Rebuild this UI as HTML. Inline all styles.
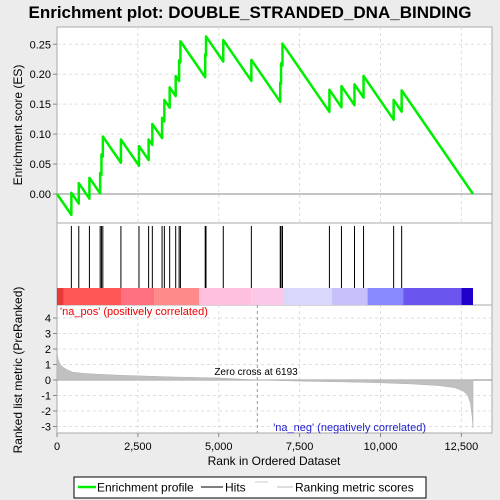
<!DOCTYPE html>
<html><head><meta charset="utf-8"><style>
body{margin:0;background:#ececec;}
svg{display:block;font-family:"Liberation Sans",sans-serif;}
</style></head><body>
<svg id="chart" width="500" height="500" viewBox="0 0 500 500" xmlns="http://www.w3.org/2000/svg">
<text x="250" y="18" text-anchor="middle" font-size="17" font-weight="bold" fill="#000">Enrichment plot: DOUBLE_STRANDED_DNA_BINDING</text>
<rect x="57" y="27" width="435" height="196" fill="#fff" stroke="#aaa"/>
<rect x="57" y="223" width="435" height="82" fill="#fff" stroke="#aaa"/>
<rect x="57" y="305" width="435" height="128" fill="#fff" stroke="#aaa"/>
<g id="grid"></g>
<g id="colorbar"></g>
<g id="hits"></g>
<g id="metric"></g>
<g id="es"></g>
<g id="axes"></g>
<text transform="translate(22,125) rotate(-90)" text-anchor="middle" font-size="12">Enrichment score (ES)</text>
<text transform="translate(22,370) rotate(-90)" text-anchor="middle" font-size="12">Ranked list metric (PreRanked)</text>
<text x="60" y="315" font-size="11" fill="#e00">'na_pos' (positively correlated)</text>
<text x="426" y="431" text-anchor="end" font-size="11" fill="#22c">'na_neg' (negatively correlated)</text>
<text x="256" y="375" text-anchor="middle" font-size="10">Zero cross at 6193</text>
<text x="274" y="465" text-anchor="middle" font-size="12">Rank in Ordered Dataset</text>
<g>
<rect x="74" y="477" width="352" height="21" fill="#fff" stroke="#000"/>
<line x1="78" y1="487" x2="96" y2="487" stroke="#00ee00" stroke-width="2.5"/>
<text x="97" y="491.5" font-size="12">Enrichment profile</text>
<line x1="201" y1="487" x2="223" y2="487" stroke="#000"/>
<text x="225" y="491.5" font-size="12">Hits</text>
<line x1="255" y1="482" x2="268" y2="482" stroke="#ccc"/>
<line x1="277" y1="487" x2="293" y2="487" stroke="#bbb"/>
<text x="295" y="491.5" font-size="12">Ranking metric scores</text>
</g>
</svg>
<script>
const N = 12860;
const hitRanks = [444,673,1002,1334,1374,1417,1976,2534,2832,2947,3248,3319,3483,3669,3775,3815,4581,4606,5140,6008,6901,6926,6970,8421,8793,9196,9476,10406,10654];
const esPeaks = [0.002,0.018,0.027,0.035,0.066,0.096,0.091,0.080,0.091,0.117,0.127,0.157,0.178,0.197,0.223,0.255,0.233,0.263,0.257,0.224,0.186,0.218,0.251,0.174,0.180,0.183,0.197,0.157,0.173];
const metricRanks = [0,40,100,200,350,500,800,1200,2000,2500,3500,5000,6193,7500,9000,10000,11000,11800,12300,12550,12700,12780,12830,12860];
const metricVals = [1.75,1.3,1.0,0.8,0.62,0.5,0.43,0.38,0.3,0.27,0.2,0.13,0,-0.07,-0.13,-0.18,-0.26,-0.36,-0.5,-0.7,-1.0,-1.5,-2.3,-3.1];
const xTicks = [0,2500,5000,7500,10000,12500];
const xTickLabels = ["0","2,500","5,000","7,500","10,000","12,500"];
const esTicks = [0,0.05,0.10,0.15,0.20,0.25];
const esTickLabels = ["0.00","0.05","0.10","0.15","0.20","0.25"];
const mTicks = [4,3,2,1,0,-1,-2,-3];
const mTickLabels = ["4","3","2","1","0","-1","-2","-3"];
const barRanks = [0,200,2000,3000,4400,6000,7000,8500,9600,10700,12500,12860];
const barColors = ["#e83838","#ff5656","#ff7080","#ff8a8a","#ffc0e0","#fcc8e8","#d8d8fa","#c8c0f8","#8888ff","#6a55ee","#2200cc"];

const NS="http://www.w3.org/2000/svg";
const X = r => 57 + r*0.03235;
const YE = v => 194 - v*599;
const YM = v => 380 - v*15.5;
function mk(tag, attrs, parent){const e=document.createElementNS(NS,tag);for(const k in attrs)e.setAttribute(k,attrs[k]);document.getElementById(parent).appendChild(e);return e;}

xTicks.forEach(t=>{if(t===0)return;
 [[27,223],[305,433]].forEach(([a,b])=>{const l=mk('line',{x1:X(t),x2:X(t),y1:a,y2:b,stroke:'#ddd','stroke-dasharray':'3,3'},'grid');
 
 });});
esTicks.forEach(t=>{const l=mk('line',{x1:57,x2:492,y1:YE(t),y2:YE(t),stroke:t===0?'#888':'#ddd','stroke-dasharray':t===0?'':'3,3'},'grid');
 
 });
mTicks.forEach(t=>{const l=mk('line',{x1:57,x2:492,y1:YM(t),y2:YM(t),stroke:t===0?'#888':'#ddd','stroke-dasharray':t===0?'':'3,3'},'grid');
 
 });
const zc=mk('line',{x1:X(6193),x2:X(6193),y1:305,y2:433,stroke:'#999','stroke-dasharray':'3,3'},'grid');



for(let i=0;i<barColors.length;i++){
 const r=mk('rect',{x:X(barRanks[i]),y:288,width:X(barRanks[i+1])-X(barRanks[i]),height:17,fill:barColors[i]},'colorbar');
 
 
}
hitRanks.forEach(h=>{const l=mk('line',{x1:X(h),x2:X(h),y1:226,y2:288,stroke:'#000','stroke-width':1},'hits');
 
 });

let d='M'+X(0)+','+YM(0);
metricRanks.forEach((r,i)=>{d+=' L'+X(r)+','+YM(metricVals[i]);});
d+=' L'+X(N)+','+YM(0)+' Z';
const ma=mk('path',{d:d,fill:'#c0c0c0',stroke:'#b0b0b0','stroke-width':0.5},'metric');



const last=hitRanks.length-1;
const slope=esPeaks[last]/(N-hitRanks[last]);
let pts=[[0,0]];let prevR=0,prevV=0;
hitRanks.forEach((r,i)=>{const v=prevV-slope*(r-prevR);pts.push([r,v]);pts.push([r,esPeaks[i]]);prevR=r;prevV=esPeaks[i];});
pts.push([N,0]);
const es=mk('polyline',{points:pts.map(p=>X(p[0])+','+YE(p[1])).join(' '),fill:'none',stroke:'#00ee00','stroke-width':2.5,'stroke-linejoin':'round'},'es');



xTicks.forEach((t,i)=>{mk('line',{x1:X(t),x2:X(t),y1:433,y2:437,stroke:'#888'},'axes');
 const tx=mk('text',{x:X(t),y:450,'text-anchor':'middle','font-size':11},'axes');tx.textContent=xTickLabels[i];
 
 });
esTicks.forEach((t,i)=>{mk('line',{x1:53,x2:57,y1:YE(t),y2:YE(t),stroke:'#888'},'axes');
 const tx=mk('text',{x:51,y:YE(t)+4,'text-anchor':'end','font-size':11},'axes');tx.textContent=esTickLabels[i];
 
 });
mTicks.forEach((t,i)=>{mk('line',{x1:53,x2:57,y1:YM(t),y2:YM(t),stroke:'#888'},'axes');
 const tx=mk('text',{x:51,y:YM(t)+4,'text-anchor':'end','font-size':11},'axes');tx.textContent=mTickLabels[i];
 
 });
</script>
</body></html>
